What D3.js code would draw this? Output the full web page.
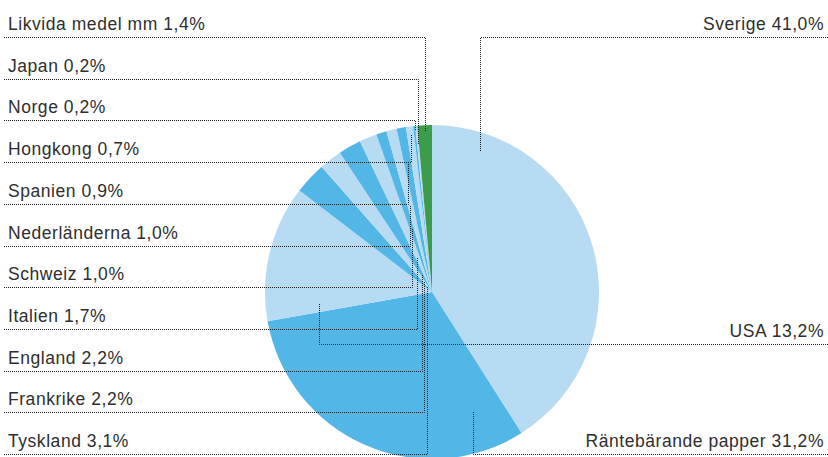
<!DOCTYPE html>
<html>
<head>
<meta charset="utf-8">
<script src="https://cdn.jsdelivr.net/npm/d3@7"></script>
<style>
  html, body { margin: 0; padding: 0; background: #fff; }
  svg { display: block; }
  text { font-family: "Liberation Sans", Arial, sans-serif; font-size: 17.5px; fill: #2e2e2e; letter-spacing: 0.55px; }
</style>
</head>
<body>
<svg id="chart" width="828" height="457"></svg>
<script>
// ---- data (clockwise from 12 o'clock) ----
const categories = ["Sverige", "Räntebärande papper", "USA", "Tyskland", "Frankrike", "England",
  "Italien", "Schweiz", "Nederländerna", "Spanien", "Hongkong", "Norge", "Japan", "Likvida medel mm"];
const values = [41.0, 31.2, 13.2, 3.1, 2.2, 2.2, 1.7, 1.0, 1.0, 0.9, 0.7, 0.2, 0.2, 1.4];
const colorGroups = ["light", "dark", "light", "dark", "light", "dark", "light", "dark", "light", "dark", "light", "dark", "light", "cash"];
const rightLabels = ["Sverige", "USA", "Räntebärande papper"];
const leftLabels = ["Likvida medel mm", "Japan", "Norge", "Hongkong", "Spanien", "Nederländerna",
  "Schweiz", "Italien", "England", "Frankrike", "Tyskland"];

// ---- layout ----
const W = 828, H = 457;
const cx = 432, cy = 292, R = 167;
const palette = { light: "#b7dbf3", dark: "#52b6e7", cash: "#3d9c4a" };
// leader anchor inside each slice: [fraction along slice angle, fraction of radius]
const anchors = {
  "Sverige": [0.128, 0.886], "Räntebärande papper": [0.12, 0.76], "USA": [0.086, 0.68],
  "Tyskland": [0.5, 0.04], "Frankrike": [0.5, 0.08], "England": [0.5, 0.12], "Italien": [0.5, 0.23],
  "Schweiz": [0.5, 0.40], "Nederländerna": [0.5, 0.54], "Spanien": [0.5, 0.78], "Hongkong": [0.5, 0.95],
  "Norge": [0.5, 0.97], "Japan": [0.5, 0.89], "Likvida medel mm": [0.5, 0.96]
};
const leftTop = 37, rowStep = 41.7;
const rightLineY = { "Sverige": 37, "USA": 344, "Räntebärande papper": 454 };

const fmt = v => d3.format(".1f")(v).replace(".", ",") + "%";

const svg = d3.select("#chart");
const data = categories.map((c, i) => ({ name: c, value: values[i], group: colorGroups[i] }));
const pie = d3.pie().sort(null).value(d => d.value).startAngle(0).endAngle(2 * Math.PI);
const arcs = pie(data);
const arc = d3.arc().innerRadius(0).outerRadius(R);

const g = svg.append("g").attr("transform", `translate(${cx},${cy})`);
g.selectAll("path").data(arcs).join("path")
  .attr("d", arc)
  .attr("fill", d => palette[d.data.group]);

const byName = {};
arcs.forEach(a => byName[a.data.name] = a);
function anchorPt(name) {
  const a = byName[name];
  const [t, rr] = anchors[name];
  const ang = a.startAngle + t * (a.endAngle - a.startAngle);
  return [cx + rr * R * Math.sin(ang), cy - rr * R * Math.cos(ang)];
}

const lines = svg.append("g")
  .attr("fill", "none").attr("stroke", "#1e1e1e").attr("stroke-width", 1)
  .attr("stroke-dasharray", "1,1");

// left labels
leftLabels.forEach((name, i) => {
  const y = Math.round(leftTop + i * rowStep) + 0.5;
  const [ax, ay] = anchorPt(name);
  const x = Math.round(ax) + 0.5;
  lines.append("path").attr("d", `M4,${y}H${x}V${Math.round(ay)}`);
  svg.append("text").attr("x", 8).attr("y", y - 8)
    .text(name + " " + fmt(byName[name].data.value));
});

// right labels
rightLabels.forEach(name => {
  const y = rightLineY[name] + 0.5;
  const [ax, ay] = anchorPt(name);
  const x = Math.round(ax) + 0.5;
  lines.append("path").attr("d", `M${W},${y}H${x}V${Math.round(ay)}`);
  svg.append("text").attr("x", 824).attr("y", y - 8).attr("text-anchor", "end")
    .text(name + " " + fmt(byName[name].data.value));
});
</script>
</body>
</html>
